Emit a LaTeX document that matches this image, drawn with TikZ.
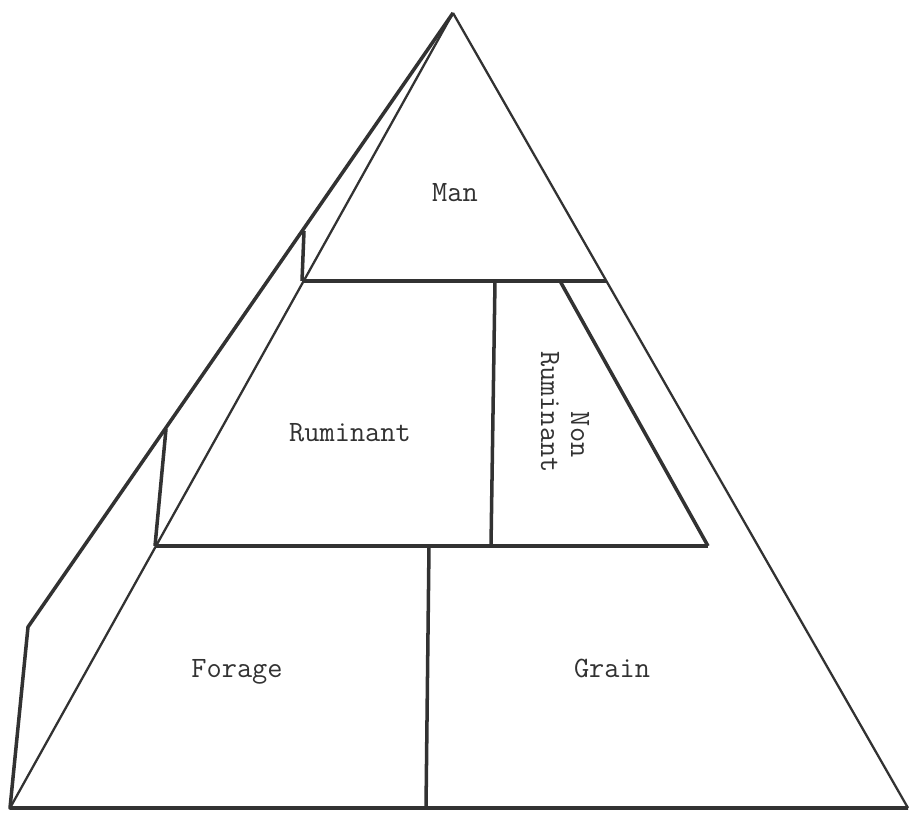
\documentclass[tikz,border=0pt]{standalone}
\usepackage{tikz}
\usetikzlibrary{positioning}
\definecolor{InkGray}{RGB}{50,50,50}
\tikzset{
  outline/.style={InkGray, line width=2pt, line join=round},
  face/.style={InkGray, line width=1.3pt},
  tierlbl/.style={font=\ttfamily\fontsize{16.8}{17.1}\selectfont, text=InkGray, inner sep=0pt}
}

\begin{document}
\begin{tikzpicture}[x=0.02cm, y=-0.02cm]
  \useasboundingbox (0,0) rectangle (910,813);
  \coordinate (apex) at (453,13);
  \coordinate (bend) at (28,627);
  \coordinate (baseL) at (10,808);
  \coordinate (baseR) at (908,808);
  \coordinate (manL) at (302,281);
  \coordinate (manR) at (606,281);
  \coordinate (manF) at (304,231);
  \coordinate (rumL) at (155,546);
  \coordinate (rumR) at (708,546);
  \coordinate (rumF) at (166,429);
  \coordinate (nonT) at (560,281);

  \draw[outline] (apex) -- (bend) -- (baseL) -- (baseR);
  \draw[face] (apex) -- (baseR);
  \draw[face] (apex) -- (baseL);
  \draw[outline] (manL) -- (manR);
  \draw[outline] (manL) -- (manF);
  \draw[outline] (rumL) -- (rumR);
  \draw[outline] (rumL) -- (rumF);
  \draw[outline] (nonT) -- (rumR);
  \draw[outline] (495,281) -- (491,546);
  \draw[outline] (429,546) -- (426,808);

  \node[tierlbl, anchor=base] (man) at (455,202) {Man};
  \node[tierlbl, anchor=base] (ruminant) at (350,442) {Ruminant};
  \node[tierlbl, rotate=-90, align=left] (nonruminant) at (565,412) {\phantom{Rumi}Non\\Ruminant};
  \node[tierlbl, anchor=base] (forage) at (237,678) {Forage};
  \node[tierlbl, anchor=base] (grain) at (612,678) {Grain};
\end{tikzpicture}
\end{document}
